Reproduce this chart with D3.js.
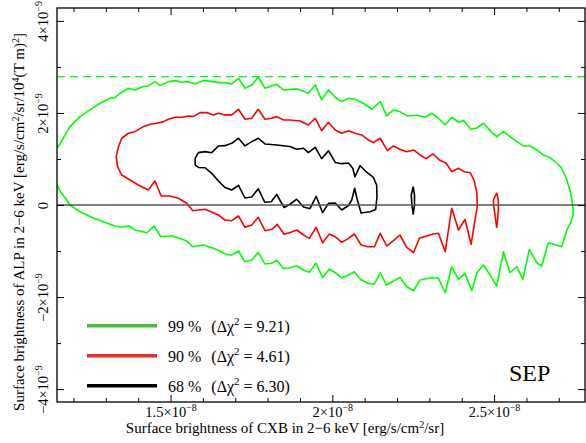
<!DOCTYPE html>
<html>
<head>
<meta charset="utf-8">
<script src="https://cdn.jsdelivr.net/npm/d3@7"></script>
<style>
body { margin: 0; background: #fff; }
svg { font-family: "Liberation Serif", "Times New Roman", serif; }
</style>
</head>
<body>
<div id="wrapper"></div>
<script>
// contour points: [CXB in 1e-8, ALP in 1e-9]
const contour99 = [
    [1.149,1.239],[1.158,1.326],[1.189,1.702],[1.220,1.920],[1.251,2.065],[1.282,2.211],[1.313,2.320],[1.328,2.333],
    [1.344,2.428],[1.370,2.537],[1.390,2.500],[1.416,2.572],[1.431,2.587],[1.452,2.680],[1.468,2.593],[1.493,2.680],
    [1.514,2.702],[1.535,2.667],[1.555,2.680],[1.576,2.630],[1.601,2.702],[1.632,2.680],[1.648,2.659],[1.668,2.659],
    [1.689,2.630],[1.710,2.754],[1.730,2.537],[1.751,2.609],[1.771,2.776],[1.792,2.537],[1.828,2.623],[1.849,2.500],
    [1.890,2.522],[1.900,2.500],[1.926,2.428],[1.947,2.609],[1.967,2.283],[1.988,2.500],[2.009,2.341],[2.029,2.246],
    [2.050,2.320],[2.070,2.298],[2.096,2.211],[2.122,2.080],[2.148,2.246],[2.168,1.935],[2.189,2.065],[2.209,2.028],
    [2.230,1.935],[2.261,1.950],[2.287,1.907],[2.307,1.993],[2.328,1.885],[2.349,1.739],[2.369,1.907],[2.390,1.798],
    [2.407,1.833],[2.428,1.646],[2.447,1.674],[2.467,1.776],[2.488,1.615],[2.508,1.485],[2.529,1.593],[2.549,1.485],
    [2.570,1.376],[2.591,1.283],[2.611,1.283],[2.632,1.196],[2.652,1.087],[2.673,1.028],[2.694,0.907],[2.709,0.798],
    [2.725,0.543],[2.737,0.254],[2.743,0.000],
    [2.745,-0.217],[2.737,-0.370],[2.725,-0.543],[2.709,-0.907],[2.668,-0.820],[2.647,-1.326],[2.632,-1.254],
    [2.609,-0.963],[2.589,-1.615],[2.570,-1.341],[2.549,-1.472],[2.529,-1.015],[2.508,-1.761],[2.488,-1.522],
    [2.467,-1.304],[2.447,-1.472],[2.431,-1.863],[2.410,-1.485],[2.390,-1.615],[2.369,-1.341],[2.349,-1.907],
    [2.328,-1.593],[2.307,-1.580],[2.271,-1.630],[2.251,-1.863],[2.230,-1.776],[2.209,-1.572],[2.189,-1.652],
    [2.168,-1.739],[2.148,-1.472],[2.130,-1.717],[2.111,-1.702],[2.089,-1.630],[2.068,-1.450],[2.050,-1.522],
    [2.029,-1.580],[2.009,-1.472],[1.991,-1.391],[1.970,-1.580],[1.950,-1.267],[1.929,-1.463],[1.911,-1.413],
    [1.890,-1.320],[1.869,-1.363],[1.849,-1.385],[1.828,-1.196],[1.813,-1.267],[1.792,-1.283],[1.771,-1.028],
    [1.751,-1.196],[1.730,-1.233],[1.710,-1.000],[1.689,-1.087],[1.672,-1.072],[1.651,-0.993],[1.632,-0.941],
    [1.601,-0.870],[1.569,-0.907],[1.550,-0.783],[1.527,-0.724],[1.504,-0.667],[1.470,-0.689],[1.449,-0.457],
    [1.428,-0.602],[1.390,-0.543],[1.370,-0.450],[1.349,-0.485],[1.328,-0.457],[1.292,-0.363],[1.256,-0.267],
    [1.220,-0.146],[1.189,0.000],[1.179,0.109],[1.158,0.304],[1.149,0.457]
];
const contour90 = [
    [2.448,-0.037],[2.447,0.254],[2.438,0.543],[2.426,0.702],[2.407,0.724],[2.390,0.798],[2.369,0.724],[2.352,0.907],
    [2.331,0.978],[2.311,1.109],[2.290,1.007],[2.271,1.087],[2.251,1.196],[2.230,1.159],[2.209,1.211],[2.189,1.283],
    [2.170,1.180],[2.148,1.450],[2.127,1.354],[2.111,1.413],[2.091,1.522],[2.070,1.559],[2.050,1.615],[2.029,1.559],
    [2.009,1.630],[1.988,1.798],[1.967,1.615],[1.947,1.885],[1.926,1.739],[1.900,1.826],[1.869,1.848],[1.849,1.848],
    [1.828,1.920],[1.813,1.885],[1.792,1.863],[1.771,2.080],[1.751,1.885],[1.730,1.863],[1.710,2.080],[1.689,1.957],
    [1.668,1.957],[1.648,1.993],[1.632,1.957],[1.612,2.007],[1.591,2.007],[1.570,1.920],[1.555,1.935],[1.535,1.907],
    [1.514,1.907],[1.493,1.863],[1.478,1.811],[1.457,1.776],[1.437,1.754],[1.416,1.702],[1.390,1.593],[1.370,1.559],
    [1.349,1.450],[1.339,1.267],[1.332,1.050],[1.336,0.833],[1.349,0.652],[1.375,0.543],[1.400,0.435],[1.431,0.326],
    [1.452,0.522],[1.471,0.196],[1.498,0.196],[1.524,0.146],[1.550,0.037],[1.569,-0.124],[1.607,-0.093],[1.648,-0.217],
    [1.668,-0.326],[1.689,-0.341],[1.710,-0.239],[1.730,-0.485],[1.751,-0.435],[1.771,-0.267],[1.792,-0.559],
    [1.813,-0.528],[1.830,-0.420],[1.851,-0.637],[1.872,-0.593],[1.890,-0.543],[1.911,-0.652],[1.929,-0.724],
    [1.950,-0.485],[1.970,-0.820],[1.991,-0.630],[2.009,-0.689],[2.029,-0.811],[2.050,-0.724],[2.068,-0.630],
    [2.089,-0.870],[2.110,-0.907],[2.130,-0.907],[2.148,-0.615],[2.168,-0.891],[2.189,-0.776],[2.209,-0.652],
    [2.230,-0.920],[2.251,-1.037],[2.269,-0.724],[2.292,-0.674],[2.312,-0.630],[2.328,-0.615],[2.349,-1.015],
    [2.369,-0.072],[2.390,-0.543],[2.410,-0.311],[2.429,-0.854],[2.441,-0.326],[2.448,-0.037]
];
const contour90Island = [
    [2.508,0.267],[2.513,0.109],[2.513,-0.109],[2.511,-0.326],[2.508,-0.485],[2.503,-0.217],[2.498,0.000],
    [2.498,0.109],[2.508,0.267]
];
const contour68 = [
    [1.576,0.870],[1.576,1.015],[1.586,1.137],[1.607,1.159],[1.627,1.137],[1.648,1.283],[1.668,1.289],[1.689,1.341],
    [1.710,1.450],[1.730,1.283],[1.751,1.376],[1.771,1.450],[1.792,1.326],[1.828,1.304],[1.869,1.272],[1.890,1.211],
    [1.911,1.233],[1.926,1.137],[1.947,1.250],[1.967,1.007],[1.988,1.180],[2.009,0.924],[2.029,0.898],[2.050,0.913],
    [2.063,0.798],[2.070,0.615],[2.086,0.854],[2.107,0.707],[2.127,0.598],[2.137,0.435],[2.138,0.180],[2.134,-0.098],
    [2.117,-0.146],[2.089,-0.174],[2.076,0.146],[2.069,0.363],[2.060,0.109],[2.050,-0.011],[2.029,-0.109],
    [2.009,0.043],[1.988,0.037],[1.970,-0.167],[1.950,0.189],[1.931,-0.080],[1.911,-0.043],[1.890,0.126],
    [1.870,0.022],[1.851,-0.054],[1.828,0.228],[1.811,0.072],[1.791,0.061],[1.771,0.354],[1.751,0.174],
    [1.730,0.152],[1.710,0.428],[1.689,0.326],[1.668,0.380],[1.648,0.522],[1.627,0.689],[1.607,0.809],
    [1.586,0.815],[1.576,0.870]
];
const contour68Island = [
    [2.250,0.398],[2.254,0.217],[2.254,0.000],[2.250,-0.196],[2.246,0.000],[2.244,0.217],[2.250,0.398]
];
const upperLimit99 = 2.79;   // 1e-9, dashed line

const xMajorTicks = [1.5, 2.0, 2.5];
const xMinorTicks = [1.2, 1.3, 1.4, 1.6, 1.7, 1.8, 1.9, 2.1, 2.2, 2.3, 2.4, 2.6, 2.7];
const yMajorTicks = [-4, -2, 0, 2, 4];
const yMinorTicks = [-3, -1, 1, 3];

const legendLevels = ["99 %", "90 %", "68 %"];
const legendChi2 = ["9.21", "4.61", "6.30"];
const legendColors = ["#4dbb3f", "#ec2a2a", "#000000"];

const xAccessor = d => d[0] * 1e-8;
const yAccessor = d => d[1] * 1e-9;

const width = 586;
const height = 443;
const margin = { top: 8, right: 1, bottom: 41, left: 57 };
const boundedWidth = width - margin.left - margin.right;
const boundedHeight = height - margin.top - margin.bottom;

const svg = d3.select("#wrapper")
    .append("svg")
    .attr("width", width)
    .attr("height", height);

const bounds = svg.append("g")
    .attr("transform", `translate(${margin.left},${margin.top})`);

const xScale = d3.scaleLinear()
    .domain([1.149e-8, 2.781e-8])
    .range([0, boundedWidth]);

const yScale = d3.scaleLinear()
    .domain([-4.28e-9, 4.28e-9])
    .range([boundedHeight, 0]);

const lineGenerator = d3.line()
    .x(d => xScale(xAccessor(d)))
    .y(d => yScale(yAccessor(d)));

// clip contours to the frame
bounds.append("clipPath").attr("id", "frame-clip")
    .append("rect")
    .attr("width", boundedWidth)
    .attr("height", boundedHeight);

const plot = bounds.append("g").attr("clip-path", "url(#frame-clip)");

plot.append("line")
    .attr("x1", 0).attr("x2", boundedWidth)
    .attr("y1", yScale(upperLimit99 * 1e-9)).attr("y2", yScale(upperLimit99 * 1e-9))
    .attr("stroke", "#00ff00")
    .attr("stroke-width", 1.3)
    .attr("stroke-dasharray", "8,5");

const contours = [
    { points: contour99, color: "#00ff00" },
    { points: contour90, color: "#ff0000" },
    { points: contour90Island, color: "#ff0000" },
    { points: contour68, color: "#000000" },
    { points: contour68Island, color: "#000000" },
];

plot.selectAll(".contour")
    .data(contours)
    .join("path")
    .attr("class", "contour")
    .attr("d", d => lineGenerator(d.points))
    .attr("fill", "none")
    .attr("stroke", d => d.color)
    .attr("stroke-width", 1.6)
    .attr("stroke-linejoin", "round");

plot.append("line")
    .attr("x1", 0).attr("x2", boundedWidth)
    .attr("y1", yScale(0)).attr("y2", yScale(0))
    .attr("stroke", "#555")
    .attr("stroke-width", 1.3);

// axes (ticks pointing inward)
function sup(sel, text, size = 10, rise = 6) {
    sel.append("tspan").attr("dy", -rise).attr("font-size", size).text(text);
}

const xMajor = d3.axisBottom(xScale).tickValues(xMajorTicks.map(v => v * 1e-8)).tickSizeInner(-7).tickSizeOuter(0);
const xMinor = d3.axisBottom(xScale).tickValues(xMinorTicks.map(v => v * 1e-8)).tickSizeInner(-4).tickSizeOuter(0).tickFormat("");
const yMajor = d3.axisLeft(yScale).tickValues(yMajorTicks.map(v => v * 1e-9)).tickSizeInner(-7).tickSizeOuter(0);
const yMinor = d3.axisLeft(yScale).tickValues(yMinorTicks.map(v => v * 1e-9)).tickSizeInner(-4).tickSizeOuter(0).tickFormat("");

const xAxis = bounds.append("g").attr("transform", `translate(0,${boundedHeight})`).call(xMajor);
bounds.append("g").attr("transform", `translate(0,${boundedHeight})`).call(xMinor);
bounds.append("g").call(d3.axisTop(xScale).tickValues(xMajorTicks.map(v => v * 1e-8)).tickSizeInner(-7).tickSizeOuter(0).tickFormat(""));
bounds.append("g").call(d3.axisTop(xScale).tickValues(xMinorTicks.map(v => v * 1e-8)).tickSizeInner(-4).tickSizeOuter(0).tickFormat(""));

const yAxis = bounds.append("g").call(yMajor);
bounds.append("g").call(yMinor);
bounds.append("g").attr("transform", `translate(${boundedWidth},0)`)
    .call(d3.axisRight(yScale).tickValues(yMajorTicks.map(v => v * 1e-9)).tickSizeInner(-7).tickSizeOuter(0).tickFormat(""));
bounds.append("g").attr("transform", `translate(${boundedWidth},0)`)
    .call(d3.axisRight(yScale).tickValues(yMinorTicks.map(v => v * 1e-9)).tickSizeInner(-4).tickSizeOuter(0).tickFormat(""));

bounds.selectAll(".domain").remove();
bounds.selectAll(".tick line").attr("stroke", "#000").attr("stroke-width", 1);

xAxis.selectAll(".tick text").each(function (d) {
    const t = d3.select(this).text("")
        .attr("y", 15).attr("dy", null)
        .attr("font-family", "Liberation Serif")
        .attr("font-size", 14.5)
        .attr("fill", "#000");
    t.append("tspan").text(`${+(d * 1e8).toFixed(1)}×10`);
    sup(t, "−8");
});

yAxis.selectAll(".tick text").each(function (d) {
    const v = Math.round(d * 1e9);
    const t = d3.select(this).text("")
        .attr("x", null).attr("dy", null)
        .attr("transform", "translate(-9,0) rotate(-90)")
        .attr("text-anchor", "middle")
        .attr("font-family", "Liberation Serif")
        .attr("font-size", 14.5)
        .attr("fill", "#000");
    if (v === 0) {
        t.text("0");
    } else {
        t.append("tspan").text(`${v < 0 ? "−" : ""}${Math.abs(v)}×10`);
        sup(t, "−9");
    }
});

bounds.append("rect")
    .attr("width", boundedWidth)
    .attr("height", boundedHeight)
    .attr("fill", "none")
    .attr("stroke", "#000")
    .attr("stroke-width", 1.3);

// axis titles
const xTitle = svg.append("text")
    .attr("x", 285).attr("y", 433)
    .attr("text-anchor", "middle")
    .attr("font-size", 15);
xTitle.append("tspan").text("Surface brightness of CXB in 2−6 keV [erg/s/cm");
sup(xTitle, "2", 10, 5);
xTitle.append("tspan").attr("dy", 5).text("/sr]");

const yTitle = svg.append("text")
    .attr("transform", "translate(24,222) rotate(-90)")
    .attr("text-anchor", "middle")
    .attr("font-size", 15);
yTitle.append("tspan").text("Surface brightness of ALP in 2−6 keV [erg/s/cm");
sup(yTitle, "2", 10, 5);
yTitle.append("tspan").attr("dy", 5).text("/sr/10");
sup(yTitle, "4", 10, 5);
yTitle.append("tspan").attr("dy", 5).text("(T m)");
sup(yTitle, "2", 10, 5);
yTitle.append("tspan").attr("dy", 5).text("]");

// legend
const legend = svg.append("g");
legendLevels.forEach((level, i) => {
    const y = 325.7 + i * 30;
    legend.append("line")
        .attr("x1", 87).attr("x2", 157)
        .attr("y1", y).attr("y2", y)
        .attr("stroke", legendColors[i])
        .attr("stroke-width", 3.5);
    const t = legend.append("text")
        .attr("x", 168).attr("y", y + 6)
        .attr("font-size", 16);
    t.append("tspan").text(level);
    t.append("tspan").attr("dx", 10).text("(Δχ");
    t.append("tspan").attr("dy", -7).attr("font-size", 11).text("2");
    t.append("tspan").attr("dy", 7).text(` = ${legendChi2[i]})`);
});

svg.append("text")
    .attr("x", 509).attr("y", 381)
    .attr("font-size", 24)
    .text("SEP");
</script>
</body>
</html>
